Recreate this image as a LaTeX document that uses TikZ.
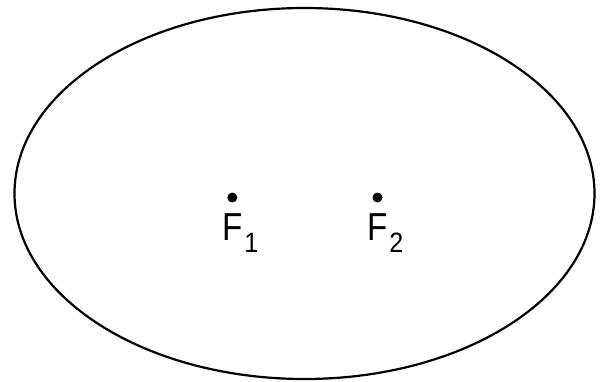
\documentclass[tikz,border=0pt]{standalone}
\usepackage{fontspec}
\setmainfont{Liberation Sans}
\newcommand{\flabel}[1]{\scalebox{0.85}[1]{\fontsize{39}{39}\selectfont F}\kern2pt\raisebox{-12pt}{\scalebox{0.9}[1]{\fontsize{28}{28}\selectfont #1}}}
\begin{document}
\begin{tikzpicture}[x=1pt,y=-1pt,
  focusdot/.style={circle,fill=black,inner sep=0pt,minimum size=10pt},
  focuslabel/.style={anchor=base west,inner sep=0pt}]
\useasboundingbox (0,0) rectangle (600,381);
\coordinate (c) at (304.5,193.5);
\draw[line width=2.2pt] (c) ellipse [x radius=290, y radius=185.5];
\node[focusdot] (f1) at (232.3,197.5) {};
\node[focusdot] (f2) at (377.5,197.5) {};
\node[focuslabel] (l1) at (222,240) {\flabel{1}};
\node[focuslabel] (l2) at (367,240) {\flabel{2}};
\end{tikzpicture}
\end{document}
